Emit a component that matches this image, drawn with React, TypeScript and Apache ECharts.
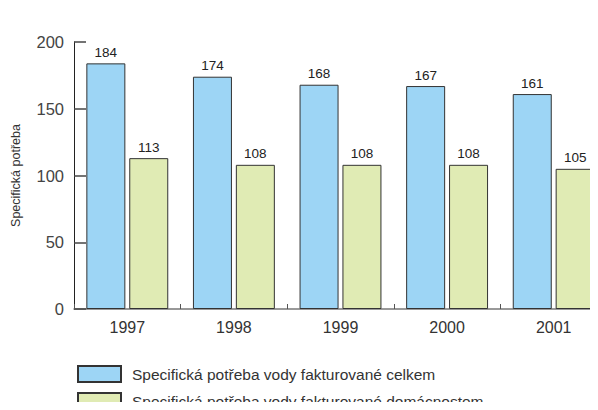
import React, { useEffect, useRef } from "react";
import * as echarts from "echarts";

const categories = ["1997", "1998", "1999", "2000", "2001"];
const seriesNames = [
  "Specifická potřeba vody fakturované celkem",
  "Specifická potřeba vody fakturované domácnostem",
];
const celkem = [184, 174, 168, 167, 161];
const domacnosti = [113, 108, 108, 108, 105];
const yAxisName = "Specifická potřeba";

export default function App() {
  const ref = useRef<HTMLDivElement>(null);
  useEffect(() => {
    if (!ref.current) return;
    const chart = echarts.init(ref.current, null, { renderer: "svg" });
    const labelStyle = {
      show: true,
      position: "top",
      distance: 4,
      fontSize: 13.5,
      fontFamily: "Liberation Sans Narrow, Liberation Sans, sans-serif",
      color: "#222",
    };
    const legendBase = {
      orient: "horizontal",
      left: 77,
      padding: 0,
      itemWidth: 43,
      itemHeight: 16,
      icon: "rect",
      textStyle: { fontSize: 15.5, color: "#333", padding: [0, 0, 0, 6] },
    };
    chart.setOption({
      animation: false,
      backgroundColor: "#fff",
      textStyle: { fontFamily: "Liberation Sans, sans-serif" },
      grid: {
        left: 74,
        top: 42,
        width: 533,
        height: 267,
        containLabel: false,
        outerBoundsMode: "none",
      },
      legend: [
        { ...legendBase, top: 365, data: [seriesNames[0]] },
        { ...legendBase, top: 392, data: [seriesNames[1]] },
      ],
      xAxis: {
        type: "category",
        data: categories,
        axisLine: { show: true, lineStyle: { color: "#777", width: 1.5 } },
        axisTick: { show: true, inside: true, length: 5, lineStyle: { color: "#555" } },
        axisLabel: { fontSize: 16, color: "#333", margin: 10 },
        splitLine: { show: false },
      },
      yAxis: {
        type: "value",
        min: 0,
        max: 200,
        interval: 50,
        name: yAxisName,
        nameLocation: "middle",
        nameGap: 52,
        nameTextStyle: { fontSize: 12.5, color: "#333" },
        axisLine: { show: true, lineStyle: { color: "#222", width: 1 } },
        axisTick: { show: true, inside: true, length: 12, lineStyle: { color: "#444", width: 1.5 } },
        axisLabel: { fontSize: 16.5, color: "#444", margin: 10 },
        splitLine: { show: false },
      },
      series: [
        {
          name: seriesNames[0],
          type: "bar",
          data: celkem,
          barWidth: 39,
          barGap: "10%",
          itemStyle: { color: "#9dd5f5", borderColor: "#333", borderWidth: 1 },
          label: labelStyle,
        },
        {
          name: seriesNames[1],
          type: "bar",
          data: domacnosti,
          barWidth: 39,
          itemStyle: { color: "#e0ebb4", borderColor: "#333", borderWidth: 1 },
          label: labelStyle,
        },
      ],
    });
    return () => chart.dispose();
  }, []);
  return <div ref={ref} style={{ width: 598, height: 410, margin: -8 }} />;
}
